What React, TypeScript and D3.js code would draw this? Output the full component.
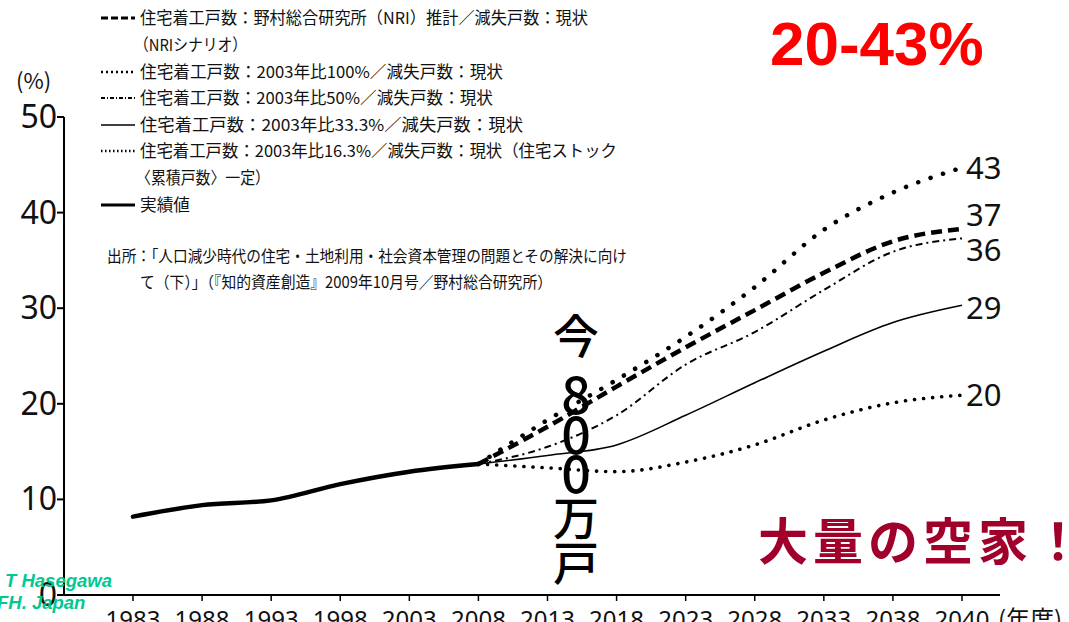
import React from 'react';
import * as d3 from 'd3';

const years = ['1983', '1988', '1993', '1998', '2003', '2008', '2013', '2018', '2023', '2028', '2033', '2038', '2040'];
const projYears = ['2008', '2013', '2018', '2023', '2028', '2033', '2038', '2040'];
const actualYears = ['1983', '1988', '1993', '1998', '2003', '2008'];
const actual = [8.2, 9.4, 9.9, 11.6, 12.9, 13.7];
const nri = [13.7, 17.6, 21.8, 25.9, 29.8, 33.7, 37.0, 38.3];
const s100 = [13.7, 18.3, 22.5, 27.0, 32.2, 38.2, 42.1, 44.7];
const s50 = [13.7, 15.5, 18.8, 24.1, 27.5, 31.9, 35.9, 37.3];
const s33 = [13.7, 14.6, 15.7, 18.8, 22.2, 25.5, 28.5, 30.3];
const s16 = [13.7, 13.3, 12.9, 13.9, 15.7, 18.3, 20.1, 20.9];
const yTicks = [0, 10, 20, 30, 40, 50];
const endLabels = ['43', '37', '36', '29', '20'];

const legendItems = [
  { text: '住宅着工戸数：野村総合研究所（NRI）推計／減失戸数：現状', style: 'nri', x: 140, w: 448 },
  { text: '（NRIシナリオ）', style: '', x: 134, w: 113 },
  { text: '住宅着工戸数：2003年比100%／減失戸数：現状', style: 's100', x: 140, w: 363 },
  { text: '住宅着工戸数：2003年比50%／減失戸数：現状', style: 's50', x: 140, w: 353 },
  { text: '住宅着工戸数：2003年比33.3%／減失戸数：現状', style: 's33', x: 140, w: 383 },
  { text: '住宅着工戸数：2003年比16.3%／減失戸数：現状（住宅ストック', style: 's16', x: 140, w: 477 },
  { text: '〈累積戸数〉一定）', style: '', x: 136, w: 134 },
  { text: '実績値', style: 'actual', x: 140, w: 50 },
];
const sourceLines = [
  '出所：「人口減少時代の住宅・土地利用・社会資本管理の問題とその解決に向け',
  'て（下）」（『知的資産創造』2009年10月号／野村総合研究所）',
];
const verticalText = ['今', '8', '0', '0', '万', '戸'];

const styles: Record<string, any> = {
  actual: { strokeWidth: 4.5, dash: null, cap: 'round' },
  nri: { strokeWidth: 4.5, dash: '11 6', cap: 'butt' },
  s100: { strokeWidth: 4.5, dash: '0.1 13', cap: 'round' },
  s50: { strokeWidth: 2, dash: '7 4 2 4', cap: 'butt' },
  s33: { strokeWidth: 1.6, dash: null, cap: 'butt' },
  s16: { strokeWidth: 3.6, dash: '0.1 9', cap: 'round' },
};

export default function App() {
  const W = 1069, H = 622;
  const x = d3.scalePoint<string>().domain(years).range([133, 962]);
  const y = d3.scaleLinear().domain([0, 50]).range([595, 117]);
  const line = d3.line<[string, number]>()
    .x(d => x(d[0]) as number)
    .y(d => y(d[1]))
    .curve(d3.curveMonotoneX);

  const series = [
    { key: 's100', data: s100 },
    { key: 'nri', data: nri },
    { key: 's50', data: s50 },
    { key: 's33', data: s33 },
    { key: 's16', data: s16 },
  ];
  const endVals = [s100[7], nri[7], s50[7], s33[7], s16[7]];
  const endOffsets = [0, -14, 12, 3, 0];

  const jp = '"Noto Sans CJK JP", "Noto Sans", sans-serif';
  const legendY = [18, 45, 72, 98, 125, 151, 178, 205];
  const vtY = [333, 391, 431, 470, 515, 560];
  const axisX = 64;

  return (
    <svg width={W} height={H} style={{ position: 'absolute', left: 0, top: 0, background: '#fff' }}>
      {/* legend */}
      {legendItems.map((it, i) => {
        const st = styles[it.style];
        return (
          <g key={i}>
            {st && (
              <line x1={101} x2={135} y1={legendY[i]} y2={legendY[i]} stroke="#000"
                strokeWidth={it.style === 's100' || it.style === 's16' ? 2.5 : Math.min(st.strokeWidth, 3)}
                strokeDasharray={it.style === 's100' ? '2 3' : it.style === 's16' ? '1.5 2.5' : it.style === 'nri' ? '7 3' : it.style === 's50' ? '4 2 1 2' : undefined} />
            )}
            <text x={it.x} y={legendY[i] + 6} fontSize={16.5} fontFamily={jp} fill="#111"
              textLength={it.w} lengthAdjust="spacingAndGlyphs">{it.text}</text>
          </g>
        );
      })}
      <text x={107} y={262} fontSize={16} fontFamily={jp} fill="#111" textLength={520} lengthAdjust="spacingAndGlyphs">{sourceLines[0]}</text>
      <text x={140} y={288} fontSize={16} fontFamily={jp} fill="#111" textLength={412} lengthAdjust="spacingAndGlyphs">{sourceLines[1]}</text>

      {/* axes */}
      <text x={16} y={89} fontSize={22} fontFamily={jp} fill="#111">(%)</text>
      <line x1={axisX} x2={axisX} y1={y(50)} y2={y(0)} stroke="#000" strokeWidth={2} />
      <line x1={axisX} x2={1000} y1={y(0)} y2={y(0)} stroke="#000" strokeWidth={2} />
      {yTicks.map(t => (
        <g key={t}>
          <line x1={axisX - 7} x2={axisX} y1={y(t)} y2={y(t)} stroke="#000" strokeWidth={2} />
          <text x={57} y={y(t) + 11} textAnchor="end" fontSize={32} fontFamily='"Noto Sans", sans-serif' fill="#111">{t}</text>
        </g>
      ))}
      {years.map(yr => (
        <g key={yr}>
          <line x1={x(yr) as number} x2={x(yr) as number} y1={y(0)} y2={y(0) + 6} stroke="#000" strokeWidth={1.5} />
          <text x={x(yr) as number} y={628} textAnchor="middle" fontSize={24} fontFamily='"Noto Sans", sans-serif' fill="#111">{yr}</text>
        </g>
      ))}
      <text x={998} y={628} fontSize={24} fontFamily={jp} fill="#111">(年度)</text>

      {/* series */}
      <path d={line(actualYears.map((yr, i) => [yr, actual[i]]) as any) || ''} fill="none" stroke="#000" strokeWidth={styles.actual.strokeWidth} strokeLinecap="round" />
      {series.map(s => {
        const st = styles[s.key];
        return (
          <path key={s.key} d={line(projYears.map((yr, i) => [yr, s.data[i]]) as any) || ''} fill="none" stroke="#000"
            strokeWidth={st.strokeWidth} strokeDasharray={st.dash || undefined} strokeLinecap={st.cap} />
        );
      })}
      {endLabels.map((lab, i) => (
        <text key={lab} x={966} y={y(endVals[i]) + endOffsets[i] + 11} fontSize={31} fontFamily='"Noto Sans", sans-serif' fill="#111">{lab}</text>
      ))}

      {/* annotations */}
      <text x={770} y={65} fontSize={62} fontWeight="bold" fontFamily='"Liberation Sans", Arial, sans-serif' fill="#ff0000">20-43%</text>
      <text x={758} y={560} fontSize={50} fontWeight="bold" fontFamily={jp} fill="#a0002a" letterSpacing={5}>大量の空家！</text>
      {verticalText.map((c, i) => (
        <text key={i} x={576} y={vtY[i]} textAnchor="middle" dominantBaseline="central" fontSize={i >= 1 && i <= 3 ? 52 : 46} fontWeight={500} fontFamily={jp} fill="#000">{c}</text>
      ))}
      <text x={5} y={587} fontSize={18.5} fontWeight="bold" fontStyle="italic" fontFamily='"Liberation Sans", Arial, sans-serif' fill="#00c890">T Hasegawa</text>
      <text x={-3} y={609} fontSize={18.5} fontWeight="bold" fontStyle="italic" fontFamily='"Liberation Sans", Arial, sans-serif' fill="#00c890">FH. Japan</text>
    </svg>
  );
}
